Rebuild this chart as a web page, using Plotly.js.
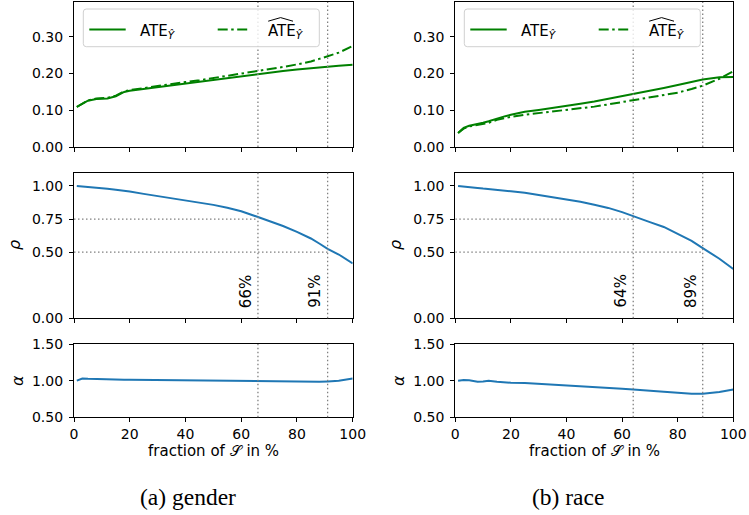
<!DOCTYPE html>
<html>
<head>
<meta charset="utf-8">
<script src="https://cdn.plot.ly/plotly-3.0.1.min.js"></script>
<style>html,body{margin:0;padding:0;background:#fff;}#chart{width:749px;height:515px;}</style>
</head>
<body>
<div id="chart"></div>
<script>
// ---------- data ----------
const fracA   = [1,3,5,8,10,12,15,18,20,25,30,35,40,45,50,55,60,66,70,75,80,85,88,91,95,100];
const ateA    = [0.109,0.118,0.126,0.131,0.132,0.132,0.138,0.150,0.153,0.158,0.163,0.168,0.172,0.177,0.182,0.187,0.193,0.199,0.203,0.207,0.211,0.215,0.217,0.219,0.221,0.224];
const ateHatA = [0.109,0.119,0.127,0.132,0.133,0.134,0.140,0.152,0.155,0.161,0.166,0.171,0.177,0.182,0.188,0.193,0.199,0.206,0.212,0.218,0.225,0.233,0.240,0.247,0.257,0.275];
const rhoA    = [1.000,0.995,0.990,0.985,0.982,0.978,0.972,0.965,0.958,0.940,0.924,0.908,0.892,0.874,0.857,0.835,0.809,0.765,0.736,0.697,0.653,0.603,0.565,0.525,0.482,0.415];
const alphaA  = [1.000,1.030,1.025,1.020,1.020,1.022,1.015,1.013,1.012,1.010,1.005,1.008,1.005,1.003,1.000,0.993,0.995,0.990,0.987,0.985,0.982,0.983,0.985,0.990,0.998,1.030];

const fracB   = [1,3,5,8,10,12,15,18,20,25,30,35,40,45,50,55,60,64,70,75,80,85,89,95,100];
const ateB    = [0.038,0.052,0.058,0.062,0.066,0.070,0.078,0.084,0.088,0.096,0.101,0.106,0.112,0.118,0.124,0.131,0.139,0.145,0.153,0.161,0.169,0.177,0.184,0.190,0.191];
const ateHatB = [0.038,0.050,0.056,0.060,0.062,0.066,0.074,0.079,0.082,0.088,0.092,0.096,0.100,0.105,0.110,0.116,0.122,0.127,0.134,0.140,0.148,0.158,0.167,0.186,0.206];
const rhoB    = [1.000,0.997,0.993,0.985,0.980,0.977,0.972,0.965,0.960,0.948,0.932,0.916,0.898,0.880,0.858,0.834,0.802,0.770,0.727,0.690,0.640,0.585,0.530,0.450,0.372];
const alphaB  = [1.000,1.010,1.005,0.985,0.990,0.998,0.985,0.975,0.972,0.968,0.958,0.948,0.940,0.928,0.918,0.905,0.890,0.880,0.868,0.850,0.835,0.820,0.820,0.845,0.880];

const thrA = [66, 91];
const thrB = [64, 89];
const rhoLevels = [0.75, 0.50];

const xTicks     = [0,20,40,60,80,100];
const ateTicks   = [0.00,0.10,0.20,0.30];
const rhoTicks   = [0.00,0.50,0.75,1.00];
const alphaTicks = [0.50,1.00,1.50];

const captions = ['(a) gender', '(b) race'];
const legendLabel = 'ATE<sub><i>Ŷ</i></sub>';
const xTitle = 'fraction of 𝒮 in %';

// ---------- layout helpers ----------
const W = 749, H = 515;
const FONT = 'DejaVu Sans';
const GREEN = '#008000', BLUE = '#1f77b4', GRAY = '#808080';
const DASHDOT = '10px,3.5px,2.5px,3.5px';
const DOT = '1.5px,2.5px';
const colDom = [[74/W, 352.7/W], [455.3/W, 733.3/W]];
const rowDom = [[1-147/H, 1-2/H], [1-318.3/H, 1-172.7/H], [1-417.3/H, 1-344/H]];
const rowRange = [[0, 0.395], [0, 1.1], [0.5, 1.5]];
const rowTicks = [ateTicks, rhoTicks, alphaTicks];
const px = v => v / W, py = v => 1 - v / H;

const sides = [
  {frac: fracA, ate: ateA, hat: ateHatA, rho: rhoA, alpha: alphaA, thr: thrA, legX: 83.3, capX: 188, labX: 14},
  {frac: fracB, ate: ateB, hat: ateHatB, rho: rhoB, alpha: alphaB, thr: thrB, legX: 464.3, capX: 568, labX: 395}
];

const traces = [];
const shapes = [];
const legendShapes = [];
const annotations = [];
const layout = {
  width: W, height: H,
  margin: {l:0, r:0, t:0, b:0},
  paper_bgcolor: '#fff', plot_bgcolor: '#fff',
  font: {family: FONT, size: 14, color: '#000'},
  showlegend: false
};

const id = n => (n === 1 ? '' : String(n));

sides.forEach((s, si) => {
  const base = si*3;
  for (let r = 0; r < 3; r++) {
    const k = base + r + 1;
    const xid = 'x' + id(k), yid = 'y' + id(k);
    layout['xaxis' + id(k)] = {
      domain: colDom[si], anchor: yid, range: [0, 100],
      tickvals: xTicks, ticks: 'outside', ticklen: 4, tickwidth: 1, tickcolor: '#000',
      showticklabels: r === 2, tickfont: {size: 14, family: FONT},
      showline: true, mirror: true, linecolor: '#000', linewidth: 1.1,
      showgrid: false, zeroline: false
    };
    layout['yaxis' + id(k)] = {
      domain: rowDom[r], anchor: xid, range: rowRange[r],
      tickvals: rowTicks[r], tickformat: '.2f', ticks: 'outside', ticklen: 4, tickwidth: 1, tickcolor: '#000',
      tickfont: {size: 14, family: FONT}, ticklabelstandoff: 3,
      showline: true, mirror: true, linecolor: '#000', linewidth: 1.1,
      showgrid: false, zeroline: false
    };
    s.thr.forEach(t => shapes.push({
      type: 'line', xref: xid, yref: yid + ' domain', x0: t, x1: t, y0: 0, y1: 1,
      line: {color: GRAY, width: 1.3, dash: DOT}
    }));
    if (r === 1) {
      s.thr.forEach((t, i) => {
        shapes.push({
          type: 'line', xref: xid, yref: yid, x0: 0, x1: t, y0: rhoLevels[i], y1: rhoLevels[i],
          line: {color: GRAY, width: 1.3, dash: DOT}
        });
        annotations.push({
          xref: xid, yref: yid, x: t, y: 0.065, text: t + '%', textangle: -90,
          xanchor: 'right', yanchor: 'bottom', showarrow: false, xshift: -1,
          font: {family: FONT, size: 15, color: '#000'}
        });
      });
    }
  }
  const t1 = base + 1, t2 = base + 2, t3 = base + 3;
  traces.push({x: s.frac, y: s.ate, xaxis: 'x'+id(t1), yaxis: 'y'+id(t1), mode: 'lines',
    name: 'ATE_Yhat', line: {color: GREEN, width: 2}});
  traces.push({x: s.frac, y: s.hat, xaxis: 'x'+id(t1), yaxis: 'y'+id(t1), mode: 'lines',
    name: 'ATEhat_Yhat', line: {color: GREEN, width: 2, dash: DASHDOT}});
  traces.push({x: s.frac, y: s.rho, xaxis: 'x'+id(t2), yaxis: 'y'+id(t2), mode: 'lines',
    name: 'rho', line: {color: BLUE, width: 2}});
  traces.push({x: s.frac, y: s.alpha, xaxis: 'x'+id(t3), yaxis: 'y'+id(t3), mode: 'lines',
    name: 'alpha', line: {color: BLUE, width: 2}});

  const cx = (colDom[si][0] + colDom[si][1]) / 2;
  annotations.push({xref: 'paper', yref: 'paper', x: cx, y: py(451), text: xTitle,
    showarrow: false, xanchor: 'center', yanchor: 'middle', font: {family: FONT, size: 15}});
  annotations.push({xref: 'paper', yref: 'paper', x: px(s.capX), y: py(497), text: captions[si],
    showarrow: false, xanchor: 'center', yanchor: 'middle', font: {family: 'Liberation Serif', size: 23.5}});
  annotations.push({xref: 'paper', yref: 'paper', x: px(s.labX), y: py(245), text: '<i>ρ</i>', textangle: -90,
    showarrow: false, xanchor: 'center', yanchor: 'middle', font: {family: FONT, size: 16}});
  annotations.push({xref: 'paper', yref: 'paper', x: px(s.labX + 3), y: py(381), text: '<i>α</i>', textangle: -90,
    showarrow: false, xanchor: 'center', yanchor: 'middle', font: {family: FONT, size: 16}});

  // ---- legend box (matplotlib style, rounded) ----
  const L = s.legX, R = L + 236, T = 9, B = 46.7, rr = 3;
  legendShapes.push({type: 'path', xref: 'paper', yref: 'paper', layer: 'above',
    path: `M${px(L+rr)},${py(T)} L${px(R-rr)},${py(T)} Q${px(R)},${py(T)} ${px(R)},${py(T+rr)} ` +
          `L${px(R)},${py(B-rr)} Q${px(R)},${py(B)} ${px(R-rr)},${py(B)} L${px(L+rr)},${py(B)} ` +
          `Q${px(L)},${py(B)} ${px(L)},${py(B-rr)} L${px(L)},${py(T+rr)} Q${px(L)},${py(T)} ${px(L+rr)},${py(T)} Z`,
    fillcolor: 'rgba(255,255,255,0.8)', line: {color: '#d0d0d0', width: 1}});
  legendShapes.push({type: 'line', xref: 'paper', yref: 'paper', layer: 'above',
    x0: px(L+6), x1: px(L+42.4), y0: py(29.5), y1: py(29.5), line: {color: GREEN, width: 2}});
  legendShapes.push({type: 'line', xref: 'paper', yref: 'paper', layer: 'above',
    x0: px(L+134.4), x1: px(L+167), y0: py(29.5), y1: py(29.5), line: {color: GREEN, width: 2, dash: DASHDOT}});
  // wide hat over ATE of the estimated effect
  const h0 = L + 184.9, h1 = L + 209.7;
  legendShapes.push({type: 'path', xref: 'paper', yref: 'paper', layer: 'above',
    path: `M${px(h0)},${py(21.2)} L${px((h0+h1)/2)},${py(17.6)} L${px(h1)},${py(21.2)}`,
    line: {color: '#000', width: 1}});
  [L + 55.7, L + 183.4].forEach(x => annotations.push({xref: 'paper', yref: 'paper', x: px(x), y: py(31.5),
    text: legendLabel, showarrow: false, xanchor: 'left', yanchor: 'middle', borderpad: 0,
    font: {family: FONT, size: 15, color: '#000'}}));
});

layout.shapes = shapes.concat(legendShapes);
layout.annotations = annotations;

Plotly.newPlot('chart', traces, layout, {displayModeBar: false, staticPlot: true});
</script>
</body>
</html>
